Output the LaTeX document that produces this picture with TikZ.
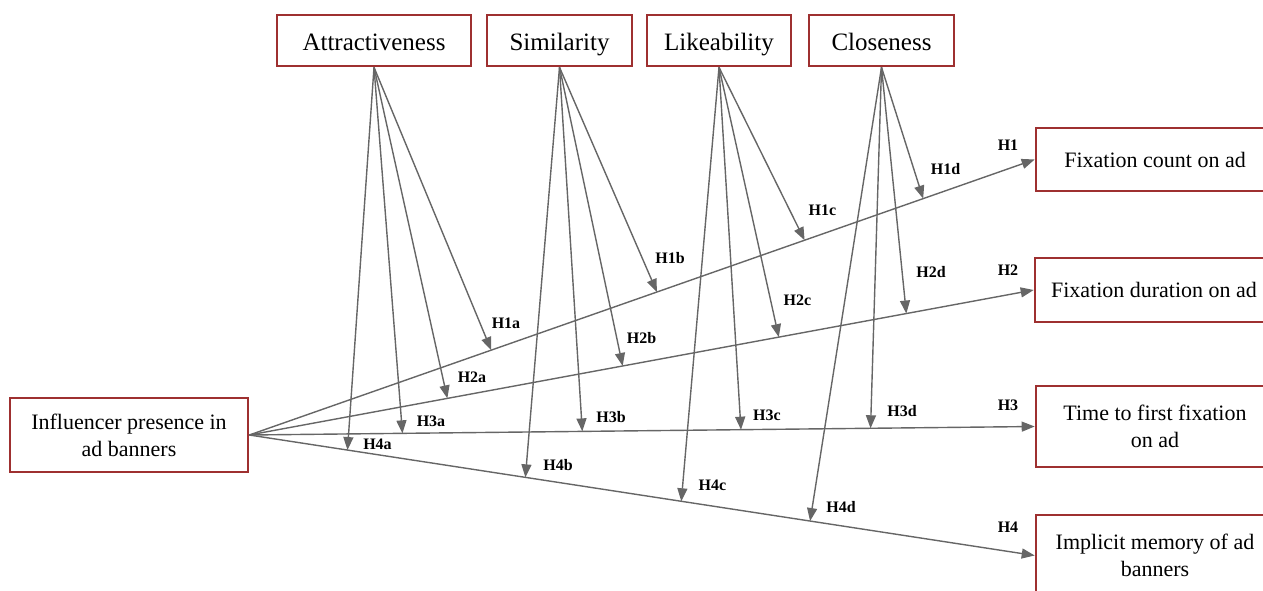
\documentclass[tikz,border=0pt]{standalone}
\usepackage{fontspec}
\setmainfont{Liberation Serif}
\usetikzlibrary{arrows.meta,calc}
\definecolor{boxred}{HTML}{9E3030}
\definecolor{linegray}{HTML}{666666}
\tikzset{
  vbox/.style={draw=boxred,line width=2.6pt,fill=white,inner sep=0pt,align=center},
  topbox/.style={vbox,minimum height=51pt,text height=25pt,text depth=5pt,font=\fontsize{25}{27}\selectfont},
  sidebox/.style={vbox,font=\fontsize{22}{27}\selectfont},
  link/.style={draw=linegray,line width=1.4pt,-{Triangle[length=13pt,width=10pt]}},
  hlab/.style={font=\bfseries\fontsize{16}{16}\selectfont,inner sep=0pt}
}
\begin{document}
\begin{tikzpicture}[x=1pt,y=-1pt]
\useasboundingbox (0,0) rectangle (1263,591);
\clip (0,0) rectangle (1263,591);
% top boxes
\node[topbox,minimum width=194pt] (attr) at (374,40.5) {Attractiveness};
\node[topbox,minimum width=145pt] (sim) at (559.5,40.5) {Similarity};
\node[topbox,minimum width=144pt] (like) at (719,40.5) {Likeability};
\node[topbox,minimum width=145pt] (close) at (881.5,40.5) {Closeness};
% left box
\node[sidebox,minimum width=238pt,minimum height=74pt] (infl) at (129,435) {Influencer presence in\\ad banners};
% right boxes
\node[sidebox,minimum width=238pt,minimum height=63pt] (f1) at (1155,159.5) {Fixation count on ad};
\node[sidebox,minimum width=238pt,minimum height=64pt] (f2) at (1154,290) {Fixation duration on ad};
\node[sidebox,minimum width=238pt,minimum height=81pt] (f3) at (1155,426.5) {Time to first fixation\\on ad};
\node[sidebox,minimum width=238pt,minimum height=81pt] (f4) at (1155,555.5) {Implicit memory of ad\\banners};
% main links
\draw[link] (infl.east) -- (f1.west);
\draw[link] (infl.east) -- (f2.west);
\draw[link] (infl.east) -- (f3.west);
\draw[link] (infl.east) -- (f4.west);
% targets on the links
\coordinate (h1a) at ($(infl.east)!0.308!(f1.west)$);
\coordinate (h1b) at ($(infl.east)!0.519!(f1.west)$);
\coordinate (h1c) at ($(infl.east)!0.707!(f1.west)$);
\coordinate (h1d) at ($(infl.east)!0.858!(f1.west)$);
\coordinate (h2a) at ($(infl.east)!0.2525!(f2.west)$);
\coordinate (h2b) at ($(infl.east)!0.476!(f2.west)$);
\coordinate (h2c) at ($(infl.east)!0.675!(f2.west)$);
\coordinate (h2d) at ($(infl.east)!0.8376!(f2.west)$);
\coordinate (h3a) at ($(infl.east)!0.195!(f3.west)$);
\coordinate (h3b) at ($(infl.east)!0.424!(f3.west)$);
\coordinate (h3c) at ($(infl.east)!0.626!(f3.west)$);
\coordinate (h3d) at ($(infl.east)!0.791!(f3.west)$);
\coordinate (h4a) at ($(infl.east)!0.125!(f4.west)$);
\coordinate (h4b) at ($(infl.east)!0.3515!(f4.west)$);
\coordinate (h4c) at ($(infl.east)!0.550!(f4.west)$);
\coordinate (h4d) at ($(infl.east)!0.714!(f4.west)$);
% moderator links
\foreach \s/\l in {attr/a,sim/b,like/c,close/d}{
  \foreach \n in {1,2,3,4}{
    \draw[link] (\s.south) -- (h\n\l);
  }
}
% labels
\node[hlab] (lH1) at (1008,145) {H1};
\node[hlab] (lH2) at (1008,270) {H2};
\node[hlab] (lH3) at (1008,405) {H3};
\node[hlab] (lH4) at (1008,527) {H4};
\node[hlab] (l1a) at (506,323) {H1a};
\node[hlab] (l2a) at (472,377.5) {H2a};
\node[hlab] (l3a) at (431,421) {H3a};
\node[hlab] (l4a) at (377.5,444) {H4a};
\node[hlab] (l1b) at (670,258) {H1b};
\node[hlab] (l2b) at (641.5,338.5) {H2b};
\node[hlab] (l3b) at (611,417.5) {H3b};
\node[hlab] (l4b) at (558,465.5) {H4b};
\node[hlab] (l1c) at (822.5,210) {H1c};
\node[hlab] (l2c) at (797.5,300) {H2c};
\node[hlab] (l3c) at (767,415.5) {H3c};
\node[hlab] (l4c) at (712.5,485) {H4c};
\node[hlab] (l1d) at (945.5,169.5) {H1d};
\node[hlab] (l2d) at (931,272) {H2d};
\node[hlab] (l3d) at (902,411.5) {H3d};
\node[hlab] (l4d) at (841,507.5) {H4d};
\end{tikzpicture}
\end{document}
